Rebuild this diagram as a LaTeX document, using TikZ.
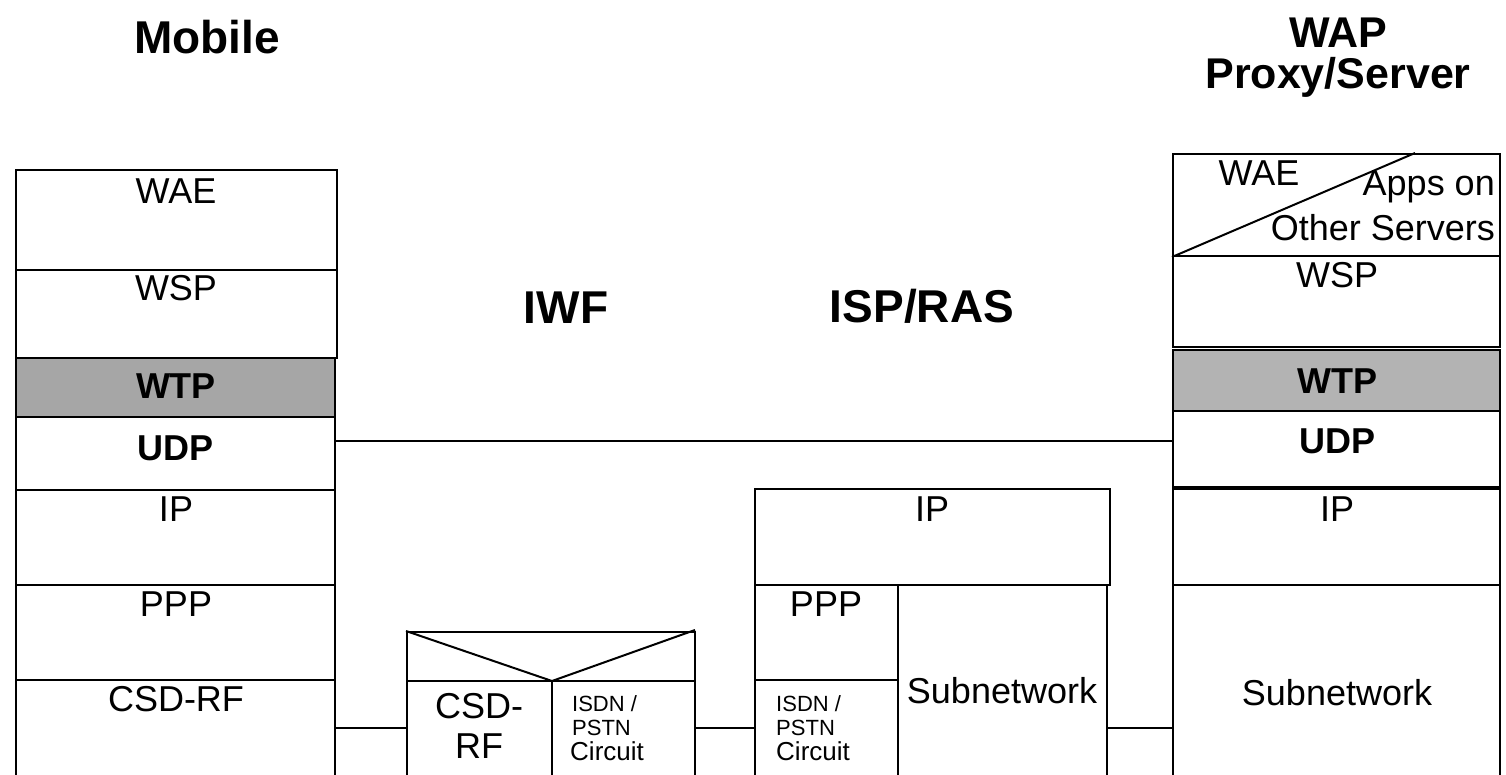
\documentclass[tikz,border=0pt]{standalone}
\usepackage{fontspec}
\setmainfont{Liberation Sans}
\usetikzlibrary{fit}
\definecolor{gLeft}{RGB}{166,166,166}
\definecolor{gRight}{RGB}{179,179,179}
\tikzset{
  lay/.style={draw, line width=2pt, inner sep=0pt, fill=white},
  layL/.style={lay, fill=gLeft},
  layR/.style={lay, fill=gRight},
  lbl/.style={inner sep=0pt, anchor=base, font=\fontsize{36}{40}\selectfont},
  blbl/.style={inner sep=0pt, anchor=base, font=\fontsize{36}{40}\selectfont\bfseries},
  ttl/.style={inner sep=0pt, anchor=base, font=\fontsize{46}{50}\selectfont\bfseries},
  ttlR/.style={inner sep=0pt, anchor=base, align=center, font=\fontsize{43}{41}\selectfont\bfseries},
  smallL/.style={inner sep=0pt, anchor=base west, font=\fontsize{22}{24}\selectfont},
  circL/.style={inner sep=0pt, anchor=base west, font=\fontsize{26}{28}\selectfont},
  link/.style={line width=2pt},
  slash/.style={line width=2pt},
}
\begin{document}
\begin{tikzpicture}[x=1pt, y=-1pt]
\useasboundingbox (0,0) rectangle (1506,774);
\clip (0,0) rectangle (1506,774);
\fill[white] (0,0) rectangle (1506,774);

% titles
\node[ttl] (tMobile) at (207,53) {Mobile};
\node[ttlR] (tWAP) at (1338,88) {WAP\\Proxy/Server};
\node[ttl] (tIWF) at (566,323) {IWF};
\node[ttl] (tISP) at (922,322) {ISP/RAS};

% left stack (Mobile)
\node[lay,  fit={(16,170) (337,270)}] (lWAE) {};
\node[lay,  fit={(16,270) (337,358)}] (lWSP) {};
\node[layL, fit={(16,358) (335,417)}] (lWTP) {};
\node[lay,  fit={(16,417) (335,490)}] (lUDP) {};
\node[lay,  fit={(16,490) (335,585)}] (lIP) {};
\node[lay,  fit={(16,585) (335,680)}] (lPPP) {};
\node[lay,  fit={(16,680) (335,790)}] (lCSD) {};
\node[lbl]  at (176,203) {WAE};
\node[lbl]  at (176,300) {WSP};
\node[blbl] at (176,398) {WTP};
\node[blbl] at (176,460) {UDP};
\node[lbl]  at (176,521) {IP};
\node[lbl]  at (176,616) {PPP};
\node[lbl]  at (176,711) {CSD-RF};

% IWF
\node[lay, fit={(407,632) (695,790)}] (iwf) {};
\coordinate (iwfMid) at (552,681);
\draw[slash] (iwf.north west) -- (iwfMid) -- (695,630);
\draw[slash] (iwf.west |- iwfMid) -- (iwf.east |- iwfMid);
\draw[slash] (iwfMid) -- (iwfMid |- iwf.south);
\node[lbl] at (479,718) {CSD-};
\node[lbl] at (479,758) {RF};
\node[smallL] at (572,711) {ISDN /};
\node[smallL] at (572,735) {PSTN};
\node[circL]  at (570,760) {Circuit};

% ISP/RAS
\node[lay, fit={(755,489) (1110,585)}] (sIP) {};
\node[lay, fit={(755,585) (898,680)}] (sPPP) {};
\node[lay, fit={(755,680) (898,790)}] (sISDN) {};
\node[lay, fit={(898,585) (1107,790)}] (sSub) {};
\node[lbl] at (932,521) {IP};
\node[lbl] at (826,616) {PPP};
\node[lbl] at (1002,703) {Subnetwork};
\node[smallL] at (776,711) {ISDN /};
\node[smallL] at (776,735) {PSTN};
\node[circL]  at (776,760) {Circuit};

% right stack (WAP Proxy/Server)
\node[lay,  fit={(1173,154) (1500,256)}] (rWAE) {};
\draw[slash] (rWAE.south west) -- (1415,153);
\node[lay,  fit={(1173,256) (1500,347)}] (rWSP) {};
\node[layR, fit={(1173,350) (1500,411)}] (rWTP) {};
\node[lay,  fit={(1173,411) (1500,487)}] (rUDP) {};
\node[lay,  fit={(1173,489) (1500,585)}] (rIP) {};
\node[lay,  fit={(1173,585) (1500,790)}] (rSub) {};
\node[lbl] at (1259,185) {WAE};
\node[lbl, anchor=base east] at (1495,195) {Apps on};
\node[lbl, anchor=base east] at (1495,240) {Other Servers};
\node[lbl]  at (1337,287) {WSP};
\node[blbl] at (1337,393) {WTP};
\node[blbl] at (1337,453) {UDP};
\node[lbl]  at (1337,521) {IP};
\node[lbl]  at (1337,705) {Subnetwork};

% connectors
\coordinate (yTop) at (0,441);
\coordinate (yBot) at (0,728);
\draw[link] (lUDP.east |- yTop) -- (rUDP.west |- yTop);
\draw[link] (lCSD.east |- yBot) -- (iwf.west |- yBot);
\draw[link] (iwf.east |- yBot) -- (sISDN.west |- yBot);
\draw[link] (sSub.east |- yBot) -- (rSub.west |- yBot);
\end{tikzpicture}
\end{document}
